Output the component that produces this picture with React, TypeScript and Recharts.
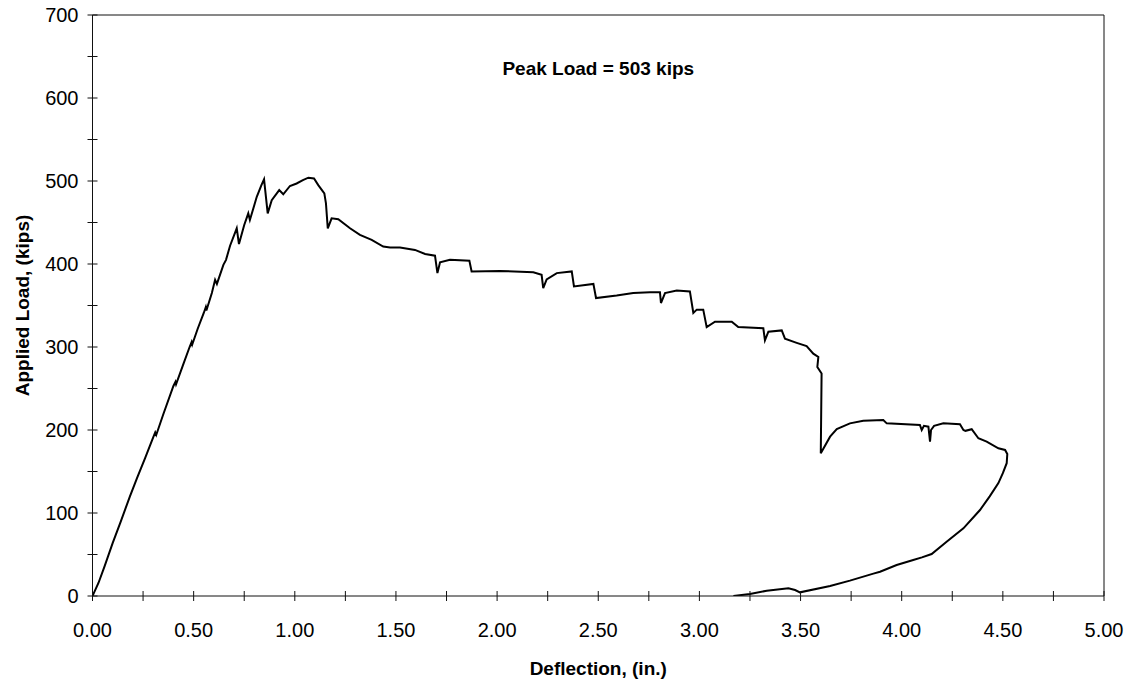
import React from 'react';
import { LineChart, Line, XAxis, YAxis, ReferenceLine, Label } from 'recharts';

const deflection = [
  0, 0.03, 0.06, 0.1, 0.14, 0.185, 0.22, 0.26, 0.3, 0.31, 0.315, 0.35, 0.4, 0.41, 0.413, 0.45, 0.48, 0.49, 0.493,
  0.52, 0.55, 0.56, 0.563, 0.59, 0.606, 0.615, 0.647, 0.66, 0.68, 0.713, 0.724, 0.75, 0.77, 0.778, 0.812, 0.835,
  0.848, 0.866, 0.886, 0.923, 0.943, 0.976, 1.009, 1.04, 1.067, 1.095, 1.116, 1.146, 1.154, 1.163, 1.182, 1.215,
  1.273, 1.322, 1.38, 1.437, 1.471, 1.52, 1.594, 1.644, 1.693, 1.705, 1.718, 1.767, 1.863, 1.874, 2.014, 2.179,
  2.22, 2.228, 2.245, 2.295, 2.369, 2.38, 2.476, 2.489, 2.591, 2.673, 2.756, 2.805, 2.81, 2.83, 2.888, 2.953, 2.97,
  2.987, 3.019, 3.036, 3.077, 3.16, 3.192, 3.316, 3.324, 3.341, 3.407, 3.423, 3.481, 3.53, 3.563, 3.588, 3.583,
  3.604, 3.6, 3.646, 3.679, 3.744, 3.81, 3.909, 3.926, 4.09, 4.099, 4.11, 4.132, 4.14, 4.145, 4.16, 4.206, 4.288,
  4.305, 4.315, 4.346, 4.379, 4.42, 4.478, 4.511, 4.522, 4.519, 4.5, 4.478, 4.435, 4.387, 4.305, 4.222, 4.148, 4.1,
  4.057, 3.975, 3.893, 3.86, 3.744, 3.646, 3.497, 3.473, 3.44, 3.333, 3.25, 3.168,
];

const load = [
  0, 16, 36, 64, 90, 120, 142, 166, 191, 197, 194, 219, 253, 258, 255, 280, 300, 306, 303,
  322, 341, 348, 344, 365, 381, 376, 399, 405, 422, 443, 424, 447, 461, 453, 481, 495,
  502, 461, 477, 489, 484, 494, 497, 501, 504, 503, 495, 485, 473, 443, 455, 454,
  443, 435, 429, 421, 420, 420, 417, 412, 410, 389, 402, 405, 404, 391, 391.6, 390,
  387, 371, 381.5, 389, 391, 373, 376, 359, 362, 365, 366, 366, 353, 365, 368, 367, 341,
  345, 345, 324, 330.5, 330.5, 324, 322.5, 308, 318.5, 320, 310, 305, 301, 292, 288, 276,
  268, 172, 192, 201, 208, 211, 212, 208, 206, 200, 205, 204, 186, 200, 205, 208, 207,
  200, 199, 201, 190, 186, 178, 176, 171, 160, 148, 136, 120, 103.6, 81.5, 65.4, 50.6, 46.5,
  43.4, 37.3, 29.3, 27, 18.5, 12, 4.4, 7.2, 9.2, 6.4, 2.4, 0,
];

const xTicks = [0, 0.25, 0.5, 0.75, 1, 1.25, 1.5, 1.75, 2, 2.25, 2.5, 2.75, 3, 3.25, 3.5, 3.75, 4, 4.25, 4.5, 4.75, 5];
const yTicks = [0, 50, 100, 150, 200, 250, 300, 350, 400, 450, 500, 550, 600, 650, 700];

const xTitle = 'Deflection, (in.)';
const yTitle = 'Applied Load, (kips)';
const note = 'Peak Load = 503 kips';

const data = deflection.map((x, i) => ({ x, y: load[i] }));

const FONT = "Arial, 'Liberation Sans', sans-serif";

const isMajorX = (v: number) => Math.abs(v * 2 - Math.round(v * 2)) < 1e-6;
const isMajorY = (v: number) => Math.abs(v / 100 - Math.round(v / 100)) < 1e-6;

const XTick = (props: any) => {
  const { x, y, payload } = props;
  const v = payload.value as number;
  return (
    <g>
      <line x1={x} x2={x} y1={y - 5} y2={y + 5} stroke="#111" strokeWidth={1} />
      {isMajorX(v) && (
        <text x={x} y={y + 34} textAnchor="middle" dominantBaseline="central" fontFamily={FONT} fontSize={20} fill="#000">
          {v.toFixed(2)}
        </text>
      )}
    </g>
  );
};

const YTick = (props: any) => {
  const { x, y, payload } = props;
  const v = payload.value as number;
  return (
    <g>
      <line x1={x - 5} x2={x + 5} y1={y} y2={y} stroke="#111" strokeWidth={1} />
      {isMajorY(v) && (
        <text x={x - 14} y={y} textAnchor="end" dominantBaseline="central" fontFamily={FONT} fontSize={20} fill="#000">
          {String(v)}
        </text>
      )}
    </g>
  );
};

export default function App() {
  return (
    <div style={{ position: 'absolute', left: 0, top: 0, width: 1131, height: 685, background: '#fff' }}>
      <LineChart width={1131} height={685} data={data} margin={{ top: 15, right: 27, left: 12.5, bottom: 49 }}>
        <XAxis
          type="number"
          dataKey="x"
          domain={[0, 5]}
          ticks={xTicks}
          interval={0}
          tickSize={0}
          tickMargin={0}
          tickLine={false}
          axisLine={{ stroke: '#111', strokeWidth: 1 }}
          tick={<XTick />}
          height={40}
          allowDataOverflow
        >
          <Label
            content={(p: any) => {
              const vb = p.viewBox;
              return (
                <text x={vb.x + vb.width / 2} y={vb.y + 72} textAnchor="middle" dominantBaseline="central" fontFamily={FONT} fontSize={19} fontWeight="bold" fill="#000">
                  {xTitle}
                </text>
              );
            }}
          />
        </XAxis>
        <YAxis
          type="number"
          domain={[0, 700]}
          ticks={yTicks}
          interval={0}
          tickSize={0}
          tickMargin={0}
          tickLine={false}
          axisLine={{ stroke: '#111', strokeWidth: 1 }}
          tick={<YTick />}
          width={80}
          allowDataOverflow
        >
          <Label
            content={(p: any) => {
              const vb = p.viewBox;
              const cx = vb.x + vb.width - 70;
              const cy = vb.y + vb.height / 2;
              return (
                <text x={cx} y={cy} transform={`rotate(-90, ${cx}, ${cy})`} textAnchor="middle" dominantBaseline="central" fontFamily={FONT} fontSize={19} fontWeight="bold" fill="#000">
                  {yTitle}
                </text>
              );
            }}
          />
        </YAxis>
        <ReferenceLine y={700} stroke="#111" strokeWidth={1}>
          <Label
            content={(p: any) => {
              const vb = p.viewBox;
              return (
                <text x={vb.x + vb.width / 2} y={vb.y + 53} textAnchor="middle" dominantBaseline="central" fontFamily={FONT} fontSize={19} fontWeight="bold" fill="#000">
                  {note}
                </text>
              );
            }}
          />
        </ReferenceLine>
        <ReferenceLine x={5} stroke="#111" strokeWidth={1} />
        <Line
          type="linear"
          dataKey="y"
          stroke="#000"
          strokeWidth={2}
          dot={false}
          activeDot={false}
          isAnimationActive={false}
        />
      </LineChart>
    </div>
  );
}
